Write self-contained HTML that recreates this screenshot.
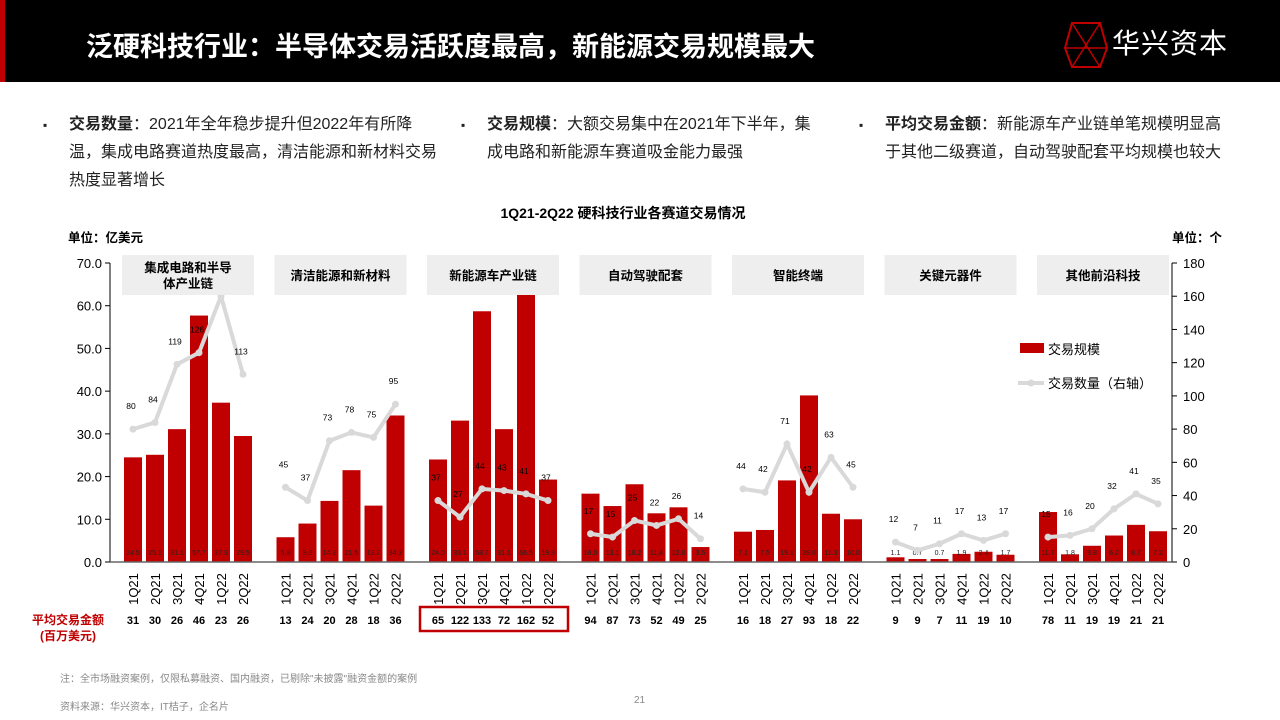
<!DOCTYPE html>
<html><head><meta charset="utf-8"><style>
body{margin:0;width:1280px;height:720px;overflow:hidden;background:#fff;font-family:"Liberation Sans","Noto Sans CJK SC",sans-serif;position:relative}
.hdr{position:absolute;left:0;top:0;width:1280px;height:82px;background:#000}
.red{position:absolute;left:0;top:0;width:5px;height:82px;background:#c00000}
.title{position:absolute;left:86px;top:25px;color:#fff;font-size:27px;font-weight:bold}
.logo{position:absolute;left:1112px;top:22px;color:#fff;font-size:28px;letter-spacing:1px}
.bul{position:absolute;top:111px;font-size:16px;line-height:28px;color:#222}
.bul b{font-weight:bold}
.bul:before{content:"▪";position:absolute;left:-26px;font-size:12px}
.foot{position:absolute;font-size:10px;color:#888}
</style></head><body>
<div class="hdr"></div>
<div class="red"></div>
<div class="title">泛硬科技行业：半导体交易活跃度最高，新能源交易规模最大</div>
<svg style="position:absolute;left:1062px;top:20px" width="50" height="50"><polygon points="10,3 38,3 45,28 38,47 10,47 3,28" fill="none" stroke="#c00000" stroke-width="2"/><path d="M10,3 L38,47 M38,3 L10,47 M3,28 L45,28" stroke="#c00000" stroke-width="1.5"/></svg>
<div class="logo">华兴资本</div>
<div class="bul" style="left:69px;width:368px"><b>交易数量</b>：2021年全年稳步提升但2022年有所降温，集成电路赛道热度最高，清洁能源和新材料交易热度显著增长</div>
<div class="bul" style="left:487px;width:335px"><b>交易规模</b>：大额交易集中在2021年下半年，集成电路和新能源车赛道吸金能力最强</div>
<div class="bul" style="left:885px;width:340px"><b>平均交易金额</b>：新能源车产业链单笔规模明显高于其他二级赛道，自动驾驶配套平均规模也较大</div>
<svg id="chart" style="position:absolute;left:0;top:0" width="1280" height="720"></svg>
<div class="foot" style="left:60px;top:670px">注：全市场融资案例，仅限私募融资、国内融资，已剔除"未披露"融资金额的案例</div>
<div class="foot" style="left:60px;top:698px">资料来源：华兴资本，IT桔子，企名片</div>
<div class="foot" style="left:634px;top:695px">21</div>
<script>
const groups=["集成电路和半导体产业链","清洁能源和新材料","新能源车产业链","自动驾驶配套","智能终端","关键元器件","其他前沿科技"];
const quarters=["1Q21","2Q21","3Q21","4Q21","1Q22","2Q22"];
const amounts=[[24.5,25.1,31.1,57.7,37.3,29.5],[5.8,9.0,14.3,21.5,13.2,34.3],[24.0,33.1,58.7,31.1,66.5,19.3],[16.0,13.1,18.2,11.4,12.8,3.5],[7.1,7.5,19.1,39.0,11.3,10.0],[1.1,0.7,0.7,1.9,2.4,1.7],[11.7,1.8,3.8,6.2,8.7,7.2]];
const counts=[[80,84,119,126,160,113],[45,37,73,78,75,95],[37,27,44,43,41,37],[17,15,25,22,26,14],[44,42,71,42,63,45],[12,7,11,17,13,17],[15,16,20,32,41,35]];
const avgs=[[31,30,26,46,23,26],[13,24,20,28,18,36],[65,122,133,72,162,52],[94,87,73,52,49,25],[16,18,27,93,18,22],[9,9,7,11,19,10],[78,11,19,19,21,21]];
const leftTicks=[0,10,20,30,40,50,60,70];
const rightTicks=[0,20,40,60,80,100,120,140,160,180];
const svg=document.getElementById('chart');const NS='http://www.w3.org/2000/svg';
function el(t,a,txt){const e=document.createElementNS(NS,t);for(const k in a)e.setAttribute(k,a[k]);if(txt!==undefined)e.textContent=txt;svg.appendChild(e);return e;}
const y0=562,yTop=263;
const yL=v=>y0-(v/70)*(y0-yTop);
const yR=v=>y0-(v/180)*(y0-yTop);
const xB=(g,i)=>133+g*152.5+i*22;
let e;
e=el('text',{x:623,y:218,'font-size':14,'font-weight':'bold','text-anchor':'middle',fill:'#000'},'1Q21-2Q22 硬科技行业各赛道交易情况');

e=el('text',{x:68,y:242,'font-size':12.5,'font-weight':'bold'},'单位：亿美元');

e=el('text',{x:1222,y:242,'font-size':12.5,'font-weight':'bold','text-anchor':'end'},'单位：个');

el('line',{x1:110,y1:yTop,x2:110,y2:y0,stroke:'#000'});
el('line',{x1:1172,y1:yTop,x2:1172,y2:y0,stroke:'#000'});
leftTicks.forEach(v=>{el('line',{x1:105,y1:yL(v),x2:110,y2:yL(v),stroke:'#000'});
e=el('text',{x:102,y:yL(v)+5,'font-size':13,'text-anchor':'end'},v.toFixed(1));
});
rightTicks.forEach(v=>{el('line',{x1:1172,y1:yR(v),x2:1177,y2:yR(v),stroke:'#000'});
e=el('text',{x:1183,y:yR(v)+5,'font-size':13},v);
});
groups.forEach((gn,g)=>{
 amounts[g].forEach((v,i)=>{const x=xB(g,i);
  e=el('rect',{x:x-9,y:yL(v),width:18,height:y0-yL(v),fill:'#c00000'});
  
  e=el('text',{x:x,y:555,'font-size':7,'text-anchor':'middle',fill:'#222'},v.toFixed(1));
  
  e=el('text',{x:0,y:0,'font-size':13,'text-anchor':'middle',transform:`translate(${x+5},589) rotate(-90)`},quarters[i]);
  
  e=el('text',{x:x,y:624,'font-size':11,'font-weight':'bold','text-anchor':'middle'},avgs[g][i]);
  
 });
 const pts=counts[g].map((v,i)=>xB(g,i)+','+yR(v)).join(' ');
 e=el('polyline',{points:pts,fill:'none',stroke:'#d9d9d9','stroke-width':4});
 
 counts[g].forEach((v,i)=>{const x=xB(g,i),y=yR(v);
  e=el('circle',{cx:x,cy:y,r:3.5,fill:'#d9d9d9'});
  
  e=el('text',{x:x-2,y:y-20,'font-size':8.5,'text-anchor':'middle'},v);
  
 });
});
el('line',{x1:110,y1:y0,x2:1172,y2:y0,stroke:'#666','stroke-width':1.5});
groups.forEach((gn,g)=>{const cx=xB(g,0)+55;
 e=el('rect',{x:cx-66,y:255,width:132,height:40,fill:'#eeeeee'});
 
 if(g===0){el('text',{x:cx,y:272,'font-size':12.5,'font-weight':'bold','text-anchor':'middle'},'集成电路和半导');
  el('text',{x:cx,y:288,'font-size':12.5,'font-weight':'bold','text-anchor':'middle'},'体产业链');}
 else {e=el('text',{x:cx,y:280,'font-size':12.5,'font-weight':'bold','text-anchor':'middle'},gn);
  }
});
e=el('rect',{x:420,y:607,width:148,height:24,fill:'none',stroke:'#c00000','stroke-width':2.5});

e=el('text',{x:68,y:624,'font-size':12,'font-weight':'bold','text-anchor':'middle',fill:'#c00000'},'平均交易金额');

el('text',{x:68,y:640,'font-size':12,'font-weight':'bold','text-anchor':'middle',fill:'#c00000'},'(百万美元)');
e=el('rect',{x:1020,y:343,width:24,height:10,fill:'#c00000'});

el('text',{x:1048,y:354,'font-size':13},'交易规模');
e=el('line',{x1:1018,y1:383,x2:1044,y2:383,stroke:'#d9d9d9','stroke-width':4});

el('circle',{cx:1031,cy:383,r:3.5,fill:'#d9d9d9'});
el('text',{x:1048,y:388,'font-size':13},'交易数量（右轴）');
</script>
</body></html>
